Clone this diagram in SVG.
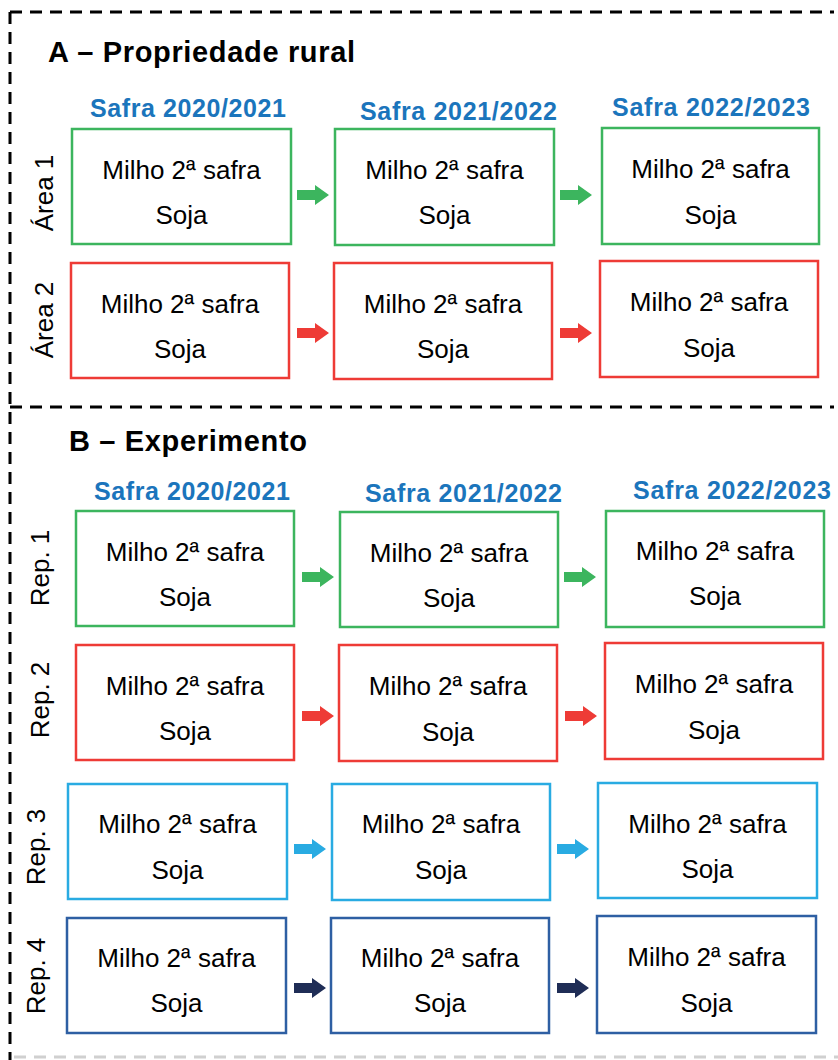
<svg xmlns="http://www.w3.org/2000/svg" width="838" height="1060" viewBox="0 0 838 1060">
<style>
.frame{fill:none;stroke:#000;stroke-width:3;stroke-dasharray:12 8}
.faint{fill:none;stroke:#d0d0d0;stroke-width:3;stroke-dasharray:12 8}
.title{font-family:"Liberation Sans",Arial,sans-serif;font-weight:bold;font-size:29px;fill:#000}
.hdr{font-family:"Liberation Sans",Arial,sans-serif;font-weight:bold;font-size:25px;fill:#1b75bc}
.lbl{font-family:"Liberation Sans",Arial,sans-serif;font-size:26px;fill:#000;text-anchor:middle}
.txt{font-family:"Liberation Sans",Arial,sans-serif;font-size:26px;fill:#000;text-anchor:middle}
.box{fill:#fff;stroke-width:2.5}
.g{stroke:#3cb55e}.r{stroke:#ee3b36}.c{stroke:#29abe2}.b{stroke:#2e5fa3}
</style>
<defs>
<path id="arr" d="M0,-5 H18 V-10 L32,0 L18,10 V5 H0 Z"/>
</defs>
<rect width="838" height="1060" fill="#fff"/>
<g id="frames">
<line class="frame" x1="10" y1="12" x2="834" y2="12"/>
<line class="frame" x1="10" y1="12" x2="10" y2="1060"/>
<line class="frame" x1="10" y1="407" x2="834" y2="407"/>
<line class="faint" x1="14" y1="1057" x2="838" y2="1057"/>
</g>
<g id="titles">
<text class="title" x="48" y="62" textLength="307">A – Propriedade rural</text>
<text class="title" x="69" y="451" textLength="238">B – Experimento</text>
<text class="hdr" x="90" y="117" textLength="196">Safra 2020/2021</text>
<text class="hdr" x="360" y="120" textLength="197">Safra 2021/2022</text>
<text class="hdr" x="612" y="116" textLength="198">Safra 2022/2023</text>
<text class="hdr" x="94" y="500" textLength="196">Safra 2020/2021</text>
<text class="hdr" x="365" y="502" textLength="197">Safra 2021/2022</text>
<text class="hdr" x="633" y="499" textLength="198">Safra 2022/2023</text>
</g>
<g id="rowlabels">
<text class="lbl" transform="translate(53,193) rotate(-90)">Área 1</text>
<text class="lbl" transform="translate(53,320) rotate(-90)">Área 2</text>
<text class="lbl" transform="translate(49,568) rotate(-90)">Rep. 1</text>
<text class="lbl" transform="translate(49,700) rotate(-90)">Rep. 2</text>
<text class="lbl" transform="translate(45,847) rotate(-90)">Rep. 3</text>
<text class="lbl" transform="translate(45,976) rotate(-90)">Rep. 4</text>
</g>
<g id="a1-1"><rect class="box g" x="72" y="129" width="219" height="115"/><text class="txt" x="181.5" y="179">Milho 2ª safra</text><text class="txt" x="181.5" y="224">Soja</text></g>
<g id="a1-2"><rect class="box g" x="335" y="129" width="219" height="116"/><text class="txt" x="444.5" y="179">Milho 2ª safra</text><text class="txt" x="444.5" y="224">Soja</text></g>
<g id="a1-3"><rect class="box g" x="602" y="128" width="217" height="116"/><text class="txt" x="710.5" y="178">Milho 2ª safra</text><text class="txt" x="710.5" y="224">Soja</text></g>
<g id="a2-1"><rect class="box r" x="71" y="263" width="218" height="115"/><text class="txt" x="180" y="313">Milho 2ª safra</text><text class="txt" x="180" y="358">Soja</text></g>
<g id="a2-2"><rect class="box r" x="334" y="263" width="218" height="116"/><text class="txt" x="443" y="313">Milho 2ª safra</text><text class="txt" x="443" y="358">Soja</text></g>
<g id="a2-3"><rect class="box r" x="600" y="261" width="218" height="116"/><text class="txt" x="709" y="311">Milho 2ª safra</text><text class="txt" x="709" y="357">Soja</text></g>
<g id="b1-1"><rect class="box g" x="76" y="511" width="218" height="115"/><text class="txt" x="185" y="561">Milho 2ª safra</text><text class="txt" x="185" y="606">Soja</text></g>
<g id="b1-2"><rect class="box g" x="340" y="512" width="218" height="115"/><text class="txt" x="449" y="562">Milho 2ª safra</text><text class="txt" x="449" y="607">Soja</text></g>
<g id="b1-3"><rect class="box g" x="606" y="511" width="218" height="116"/><text class="txt" x="715" y="560">Milho 2ª safra</text><text class="txt" x="715" y="605">Soja</text></g>
<g id="b2-1"><rect class="box r" x="76" y="645" width="218" height="115"/><text class="txt" x="185" y="695">Milho 2ª safra</text><text class="txt" x="185" y="740">Soja</text></g>
<g id="b2-2"><rect class="box r" x="339" y="645" width="218" height="116"/><text class="txt" x="448" y="695">Milho 2ª safra</text><text class="txt" x="448" y="741">Soja</text></g>
<g id="b2-3"><rect class="box r" x="605" y="643" width="218" height="116"/><text class="txt" x="714" y="693">Milho 2ª safra</text><text class="txt" x="714" y="739">Soja</text></g>
<g id="b3-1"><rect class="box c" x="68" y="784" width="219" height="115"/><text class="txt" x="177.5" y="833">Milho 2ª safra</text><text class="txt" x="177.5" y="879">Soja</text></g>
<g id="b3-2"><rect class="box c" x="332" y="784" width="218" height="116"/><text class="txt" x="441" y="833">Milho 2ª safra</text><text class="txt" x="441" y="879">Soja</text></g>
<g id="b3-3"><rect class="box c" x="598" y="783" width="219" height="115"/><text class="txt" x="707.5" y="833">Milho 2ª safra</text><text class="txt" x="707.5" y="878">Soja</text></g>
<g id="b4-1"><rect class="box b" x="67" y="918" width="219" height="115"/><text class="txt" x="176.5" y="967">Milho 2ª safra</text><text class="txt" x="176.5" y="1012">Soja</text></g>
<g id="b4-2"><rect class="box b" x="331" y="918" width="218" height="115"/><text class="txt" x="440" y="967">Milho 2ª safra</text><text class="txt" x="440" y="1012">Soja</text></g>
<g id="b4-3"><rect class="box b" x="597" y="916" width="219" height="117"/><text class="txt" x="706.5" y="966">Milho 2ª safra</text><text class="txt" x="706.5" y="1012">Soja</text></g>
<g id="connectors">
<use href="#arr" x="297" y="195" fill="#3cb55e"/>
<use href="#arr" x="560" y="195" fill="#3cb55e"/>
<use href="#arr" x="297" y="333" fill="#ee3b36"/>
<use href="#arr" x="560" y="333" fill="#ee3b36"/>
<use href="#arr" x="302" y="577" fill="#3cb55e"/>
<use href="#arr" x="564" y="577" fill="#3cb55e"/>
<use href="#arr" x="302" y="716" fill="#ee3b36"/>
<use href="#arr" x="565" y="716" fill="#ee3b36"/>
<use href="#arr" x="294" y="849" fill="#29abe2"/>
<use href="#arr" x="557" y="849" fill="#29abe2"/>
<use href="#arr" x="294" y="988" fill="#1f2d56"/>
<use href="#arr" x="557" y="988" fill="#1f2d56"/>
</g>
</svg>
